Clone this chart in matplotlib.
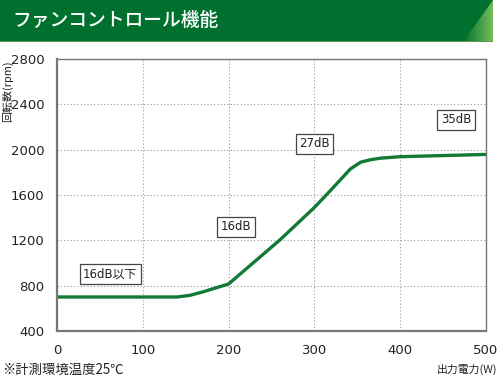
import numpy as np
import matplotlib
matplotlib.use("Agg")
import matplotlib.pyplot as plt
from matplotlib.patches import Polygon, Rectangle

plt.rcParams["font.family"] = ["Noto Sans CJK JP", "DejaVu Sans"]

# data
power = [0, 140, 155, 170, 185, 200, 260, 300, 320, 342, 354, 366, 377, 400, 500]
rpm = [700, 700, 715, 745, 780, 815, 1205, 1490, 1650, 1830, 1890, 1912, 1925, 1938, 1958]

noise_labels = ["16dB以下", "16dB", "27dB", "35dB"]
label_x = [62, 209, 300, 465]
label_y = [905, 1321, 2052, 2264]

x_ticks = [0, 100, 200, 300, 400, 500]
y_ticks = [400, 800, 1200, 1600, 2000, 2400, 2800]

green = "#00702f"

fig = plt.figure(figsize=(5, 3.78), dpi=100)

# title band
band = fig.add_axes([0, 1 - 42 / 378, 1, 42 / 378])
band.add_patch(Rectangle((0, 0), 493, 42, color=green, lw=0, zorder=1))
grad = np.linspace(0, 1, 64).reshape(1, -1)
cmap = matplotlib.colors.LinearSegmentedColormap.from_list("g", [green, "#74bb5a"])
img = band.imshow(grad, extent=[462, 493, 0, 42], cmap=cmap, aspect="auto", zorder=2)
band.set_xlim(0, 500)
band.set_ylim(0, 42)
band.axis("off")
tri = Polygon([(463, 0), (493, 42), (493, 0)], closed=True, transform=band.transData)
img.set_clip_path(tri)
band.add_patch(Rectangle((0, 0), 493, 1.5, color="#5a9e4a", lw=0, zorder=3))
band.text(12, 22, "ファンコントロール機能", color="white", fontsize=13.5,
          fontweight="medium", va="center", ha="left", zorder=4)

ax = fig.add_axes([57 / 500, 47 / 378, 429 / 500, 272 / 378])
ax.plot(power, rpm, color="#137a35", lw=2.4, solid_capstyle="butt")

for txt, x, y in zip(noise_labels, label_x, label_y):
    ax.text(x, y, txt, ha="center", va="center", fontsize=8.5, color="#222222",
            family=["DejaVu Sans", "Noto Sans CJK JP"],
            bbox=dict(boxstyle="square,pad=0.3", fc="white", ec="#444444", lw=0.9))

ax.set_xlim(0, 500)
ax.set_ylim(400, 2800)
ax.set_xticks(x_ticks)
ax.set_yticks(y_ticks)
ax.tick_params(length=0, labelsize=9.5, colors="#222222", pad=9)
for lab in ax.get_xticklabels() + ax.get_yticklabels():
    lab.set_family("DejaVu Sans")
ax.grid(True, ls=(0, (1, 2)), color="#999999", lw=0.8)
for side in ["left", "bottom"]:
    ax.spines[side].set_color("#777777")
    ax.spines[side].set_linewidth(1.6)
for side in ["top", "right"]:
    ax.spines[side].set_color("#777777")
    ax.spines[side].set_linewidth(1.0)

fig.text(8 / 500, 1 - 60 / 378, "回転数(rpm)", rotation=90, fontsize=7.9,
         ha="center", va="top", color="#222222")
fig.text(497 / 500, 1 - 369 / 378, "出力電力(W)", fontsize=7.8,
         ha="right", va="center", color="#222222")
fig.text(2 / 500, 1 - 370 / 378, "※計測環境温度25℃", fontsize=9.6,
         ha="left", va="center", color="#222222")

fig.savefig("out.png", dpi=100)
